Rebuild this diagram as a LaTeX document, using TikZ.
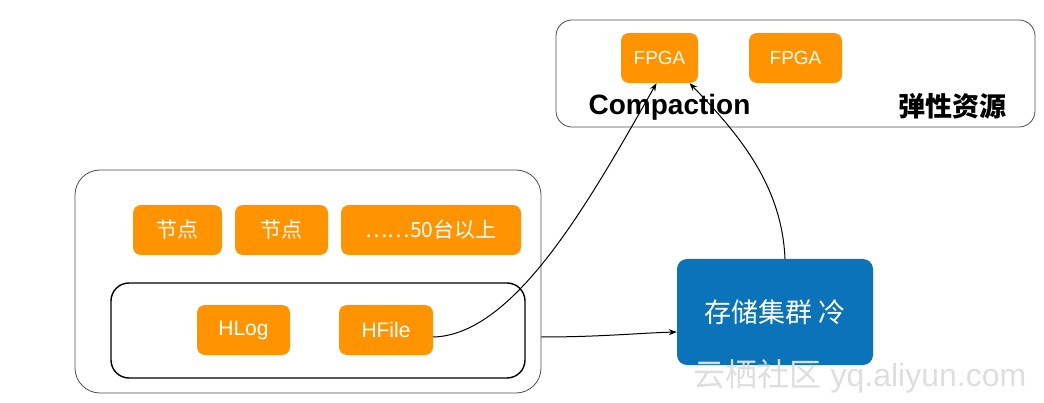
\documentclass[tikz,border=0pt]{standalone}
\usepackage{fontspec}
\setmainfont{Liberation Sans}
\newfontfamily\cjk{Noto Sans CJK SC}
\usetikzlibrary{arrows.meta}
\definecolor{orng}{HTML}{FF9400}
\definecolor{stblue}{HTML}{0B73B9}
\tikzset{
  cont/.style={draw=black!70, line width=0.8pt, rounded corners=#1},
  obox/.style={fill=orng, rounded corners=8pt, text=white, inner sep=0pt, font=\fontsize{21}{24}\selectfont\cjk},
  conn/.style={draw=black, line width=1pt, -{Stealth[length=8pt,width=6pt]}},
}
\begin{document}
\begin{tikzpicture}[x=1pt,y=-1pt]
\useasboundingbox (0,0) rectangle (1044,403);
% top container
\node[cont=16pt, minimum width=479pt, minimum height=107pt] (top) at (795.5,73.5) {};
\node[obox, minimum width=77pt, minimum height=50pt, font=\fontsize{19}{22}\selectfont] (fpga1) at (659.5,58) {FPGA};
\node[obox, minimum width=93pt, minimum height=50pt, font=\fontsize{19}{22}\selectfont] (fpga2) at (795.5,58) {FPGA};
\node[anchor=base, inner sep=0pt, font=\fontsize{28}{30}\selectfont\bfseries] (comp) at (669.5,115) {Compaction};
\node[inner sep=0pt, font=\fontsize{27}{30}\selectfont\cjk\bfseries] (elastic) at (952,106) {弹性资源};
% bottom container
\node[cont=25pt, minimum width=466pt, minimum height=223pt] (bottom) at (308,281.5) {};
\node[obox, minimum width=89pt, minimum height=50pt] (n1) at (177.5,230) {节点};
\node[obox, minimum width=93pt, minimum height=50pt] (n2) at (281.5,230) {节点};
\node[obox, minimum width=180pt, minimum height=50pt] (n3) at (431,230) {……50台以上};
\node[draw=black, line width=1.4pt, rounded corners=18pt, minimum width=414pt, minimum height=95pt] (inner) at (318,330.5) {};
\node[obox, minimum width=93pt, minimum height=50pt, font=\fontsize{21}{24}\selectfont] (hlog) at (243.5,330) {HLog};
\node[obox, minimum width=94pt, minimum height=50pt, font=\fontsize{21}{24}\selectfont] (hfile) at (386,330) {HFile};
% storage
\node[fill=stblue, rounded corners=10pt, minimum width=196pt, minimum height=106pt, text=white, font=\fontsize{27}{30}\selectfont\cjk] (store) at (775,312) {存储集群 冷};
% watermark
\node[inner sep=0pt, text=black!13, font=\fontsize{32}{35}\selectfont] (wm) at (860,376) {{\cjk 云栖社区} yq.aliyun.com};
% connectors
\draw[conn] ([yshift=-7pt]hfile.east) .. controls (515,335) and (590,200) .. ([xshift=-3pt]fpga1.south);
\draw[conn] ([xshift=10pt]store.north) .. controls (782,190) and (745,140) .. ([xshift=30pt]fpga1.south);
\draw[conn] ([yshift=-55.5pt]bottom.east) .. controls (600,337) and (640,333) .. ([yshift=-20pt]store.west);
\end{tikzpicture}
\end{document}
